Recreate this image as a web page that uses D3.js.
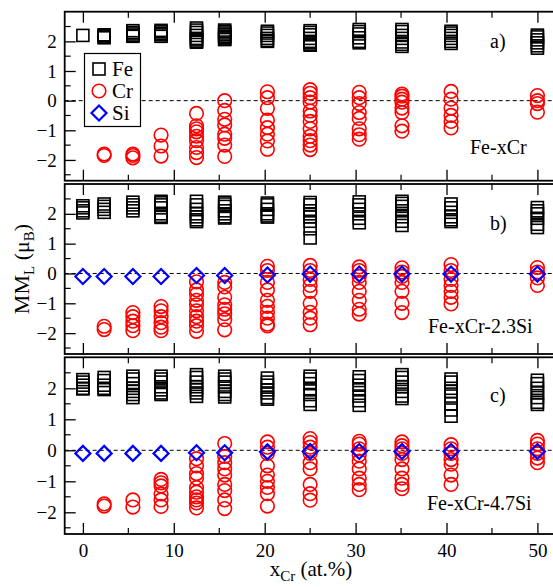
<!DOCTYPE html>
<html>
<head>
<meta charset="utf-8">
<script src="https://cdn.jsdelivr.net/npm/d3@7"></script>
<style>
  body { margin: 0; background: #fff; }
  svg { display: block; }
  svg text { font-family: "Liberation Serif", "DejaVu Serif", serif; }
</style>
</head>
<body>
<svg id="chart" width="553" height="587"></svg>
<script>
// Cr concentrations (at.%) of the simulated cells
const xCr = [0, 2.34, 5.5, 8.6, 12.5, 15.6, 20.3, 25, 30.4, 35.1, 40.5, 50];

// Panel a) Fe-xCr : local magnetic moments per site
const feA = [
    [2.2],
    [2.22, 2.19, 2.15, 2.12],
    [2.36, 2.3, 2.25, 2.2, 2.17],
    [2.37, 2.32, 2.27, 2.22, 2.17],
    [2.45, 2.38, 2.3, 2.2, 2.1, 2.05, 2.0, 1.97],
    [2.38, 2.33, 2.28, 2.22, 2.17, 2.12, 2.08, 2.06],
    [2.34, 2.28, 2.2, 2.1, 2.03, 2.0],
    [2.36, 2.3, 2.22, 2.1, 2.0, 1.95, 1.9, 1.87],
    [2.4, 2.33, 2.25, 2.12, 2.0, 1.95],
    [2.4, 2.33, 2.2, 2.1, 1.98, 1.9, 1.83],
    [2.34, 2.28, 2.2, 2.1, 2.0, 1.93],
    [2.21, 2.15, 2.05, 1.95, 1.85, 1.77]
];
const crA = [
    [],
    [-1.8, -1.85],
    [-1.8, -1.85, -1.93],
    [-1.16, -1.53, -1.87],
    [-0.43, -0.85, -0.95, -1.05, -1.2, -1.35, -1.58, -1.75, -1.92],
    [0.0, -0.33, -0.63, -0.82, -1.13, -1.27, -1.5, -1.88],
    [0.3, 0.1, -0.26, -0.66, -0.91, -1.13, -1.36, -1.64],
    [0.37, 0.25, 0.1, -0.05, -0.35, -0.5, -0.7, -0.95, -1.2, -1.35, -1.5, -1.65],
    [0.28, 0.1, -0.1, -0.4, -0.6, -0.95, -1.15, -1.3],
    [0.22, 0.15, 0.05, -0.05, -0.25, -0.4, -0.85, -1.03],
    [0.31, 0.05, -0.25, -0.5, -0.7, -0.92],
    [0.17, 0.0, -0.1, -0.39]
];
const siA = [];

// Panel b) Fe-xCr-2.3Si
const feB = [
    [2.27, 2.2, 2.1, 2.03],
    [2.33, 2.25, 2.15, 2.05],
    [2.39, 2.3, 2.2, 2.1],
    [2.42, 2.37, 2.3, 2.2, 2.0, 1.92, 1.88],
    [2.42, 2.3, 2.15, 2.0, 1.9, 1.8, 1.74],
    [2.39, 2.33, 2.25, 2.1, 2.0, 1.9, 1.86],
    [2.36, 2.3, 2.15, 2.0, 1.93, 1.89],
    [2.38, 2.3, 2.1, 2.0, 1.9, 1.75, 1.5, 1.19],
    [2.4, 2.3, 2.15, 2.0, 1.85, 1.7],
    [2.42, 2.35, 2.25, 2.1, 1.9, 1.75, 1.61],
    [2.33, 2.2, 2.05, 1.9, 1.8, 1.74],
    [2.21, 2.1, 2.0, 1.85, 1.65, 1.54]
];
const crB = [
    [],
    [-1.77, -1.88],
    [-1.31, -1.45, -1.6, -1.75, -1.92],
    [-1.11, -1.25, -1.45, -1.65, -1.8, -1.92],
    [-0.28, -0.55, -0.7, -0.9, -1.05, -1.25, -1.45, -1.6, -1.75, -1.94],
    [-0.3, -0.45, -0.8, -1.05, -1.2, -1.35, -1.55, -1.89],
    [0.24, 0.1, -0.3, -0.55, -0.9, -1.1, -1.3, -1.5, -1.7, -1.76],
    [0.27, 0.1, -0.2, -0.4, -0.6, -1.0, -1.3, -1.5, -1.72],
    [0.22, 0.1, -0.1, -0.3, -0.6, -0.9, -1.2, -1.36],
    [0.19, 0.05, -0.1, -0.3, -0.6, -1.0, -1.31],
    [0.3, 0.1, -0.2, -0.4, -0.6, -0.8, -1.02],
    [0.2, 0.05, -0.15, -0.4]
];
const siB = [-0.1, -0.1, -0.1, -0.1, -0.07, -0.07, -0.05, -0.02, -0.02, -0.02, -0.02, -0.02];

// Panel c) Fe-xCr-4.7Si
const feC = [
    [2.28, 2.2, 2.1, 2.0, 1.98],
    [2.35, 2.25, 2.1, 2.0, 1.96],
    [2.39, 2.3, 2.15, 2.0, 1.9, 1.8, 1.7],
    [2.39, 2.3, 2.2, 2.05, 1.95, 1.85, 1.8],
    [2.44, 2.35, 2.2, 2.05, 1.95, 1.85, 1.74],
    [2.39, 2.3, 2.2, 2.05, 1.9, 1.8, 1.72],
    [2.33, 2.2, 2.1, 1.95, 1.85, 1.7, 1.65],
    [2.39, 2.3, 2.15, 1.95, 1.8, 1.6, 1.48],
    [2.37, 2.25, 2.1, 1.95, 1.75, 1.6, 1.45],
    [2.44, 2.35, 2.2, 2.05, 1.9, 1.75, 1.67],
    [2.3, 2.2, 2.0, 1.9, 1.75, 1.5, 1.3, 1.1],
    [2.26, 2.15, 2.0, 1.85, 1.7, 1.55, 1.48]
];
const crC = [
    [],
    [-1.73, -1.8],
    [-1.6, -1.83],
    [-0.94, -1.05, -1.15, -1.41, -1.6, -1.81],
    [-0.27, -0.5, -0.75, -0.9, -1.2, -1.35, -1.5, -1.6, -1.7, -1.86],
    [0.22, -0.2, -0.4, -0.6, -0.8, -1.1, -1.3, -1.6, -1.88],
    [0.27, 0.1, -0.1, -0.5, -0.8, -1.0, -1.2, -1.4, -1.8],
    [0.38, 0.25, 0.1, -0.1, -0.4, -0.6, -1.1, -1.4, -1.61],
    [0.29, 0.2, 0.05, -0.15, -0.35, -0.6, -0.9, -1.1, -1.27],
    [0.27, 0.15, 0.05, -0.1, -0.3, -0.6, -0.9, -1.1, -1.24],
    [0.18, 0.05, -0.1, -0.3, -0.45, -0.8, -1.1],
    [0.32, 0.2, 0.05, -0.1, -0.25, -0.4]
];
const siC = [-0.1, -0.1, -0.1, -0.1, -0.08, -0.08, -0.05, -0.04, -0.04, -0.04, -0.04, -0.04];

const yTicks = [-2, -1, 0, 1, 2];
const xTicks = [0, 10, 20, 30, 40, 50];
const legendNames = ["Fe", "Cr", "Si"];

const panels = [
    { fe: feA, cr: crA, si: siA, tag: "a)", name: "Fe-xCr", top: 11.7, bottom: 180.7, tagY: 48, nameX: 470, nameY: 154 },
    { fe: feB, cr: crB, si: siB, tag: "b)", name: "Fe-xCr-2.3Si", top: 184, bottom: 354, tagY: 230, nameX: 428, nameY: 333 },
    { fe: feC, cr: crC, si: siC, tag: "c)", name: "Fe-xCr-4.7Si", top: 357.3, bottom: 534, tagY: 402, nameX: 427, nameY: 510 }
];

const serif = "'Liberation Serif', 'DejaVu Serif', serif";
const svg = d3.select("#chart");
const left = 64.7;
const x = d3.scaleLinear().domain([-2, 52]).range([left, 555.6]);

const SQ = 12;     // square side
const R = 6.8;     // circle radius
const D = 7.5;     // diamond half diagonal

function drawSquares(g, pts) {
    g.selectAll("rect.fe").data(pts).join("rect")
        .attr("class", "fe")
        .attr("x", d => d.x - SQ / 2).attr("y", d => d.y - SQ / 2)
        .attr("width", SQ).attr("height", SQ)
        .attr("fill", "none").attr("stroke", "#000").attr("stroke-width", 1.6);
}

function drawCircles(g, pts) {
    g.selectAll("circle.cr").data(pts).join("circle")
        .attr("class", "cr")
        .attr("cx", d => d.x).attr("cy", d => d.y).attr("r", R)
        .attr("fill", "none").attr("stroke", "#ff0000").attr("stroke-width", 1.6);
}

function drawDiamonds(g, pts) {
    g.selectAll("path.si").data(pts).join("path")
        .attr("class", "si")
        .attr("d", d => `M${d.x},${d.y - D}L${d.x + D},${d.y}L${d.x},${d.y + D}L${d.x - D},${d.y}Z`)
        .attr("fill", "none").attr("stroke", "#0000ff").attr("stroke-width", 2.2);
}

panels.forEach((p, pi) => {
    const y = d3.scaleLinear().domain([-2.7, 3]).range([p.bottom, p.top]);
    const g = svg.append("g");
    const clipId = `clip${pi}`;
    svg.append("clipPath").attr("id", clipId)
        .append("rect").attr("x", left).attr("y", p.top).attr("width", 600).attr("height", p.bottom - p.top);

    // minor ticks
    const yMinor = d3.range(-2.5, 3, 1);
    g.selectAll("line.ymin").data(yMinor).join("line")
        .attr("x1", left).attr("x2", left + 6)
        .attr("y1", d => y(d)).attr("y2", d => y(d))
        .attr("stroke", "#000").attr("stroke-width", 1.2);
    const xMinor = [5, 15, 25, 35, 45];
    g.selectAll("line.xminb").data(xMinor).join("line")
        .attr("x1", d => x(d)).attr("x2", d => x(d))
        .attr("y1", p.bottom).attr("y2", p.bottom - 6)
        .attr("stroke", "#000").attr("stroke-width", 1.2);
    g.selectAll("line.xmint").data(xMinor).join("line")
        .attr("x1", d => x(d)).attr("x2", d => x(d))
        .attr("y1", p.top).attr("y2", p.top + 6)
        .attr("stroke", "#000").attr("stroke-width", 1.2);

    // major ticks, inward
    const yAxis = d3.axisLeft(y).tickValues(yTicks).tickSize(-11).tickPadding(8).tickFormat(d3.format("d"));
    const ya = g.append("g").attr("transform", `translate(${left},0)`).call(yAxis)
        .attr("font-family", serif).attr("font-size", 19);
    ya.select(".domain").remove();
    ya.selectAll("line").attr("stroke", "#000").attr("stroke-width", 1.3);
    ya.selectAll("text").attr("fill", "#000");

    const xAxisB = d3.axisBottom(x).tickValues(xTicks).tickSize(-11).tickPadding(10)
        .tickFormat(pi === 2 ? d3.format("d") : "");
    const xb = g.append("g").attr("transform", `translate(0,${p.bottom})`).call(xAxisB)
        .attr("font-family", serif).attr("font-size", 19);
    xb.select(".domain").remove();
    xb.selectAll("line").attr("stroke", "#000").attr("stroke-width", 1.3);
    xb.selectAll("text").attr("fill", "#000");

    const xAxisT = d3.axisTop(x).tickValues(xTicks).tickSize(-11).tickFormat("");
    const xt = g.append("g").attr("transform", `translate(0,${p.top})`).call(xAxisT);
    xt.select(".domain").remove();
    xt.selectAll("line").attr("stroke", "#000").attr("stroke-width", 1.3);

    // frame
    g.append("rect").attr("x", left).attr("y", p.top)
        .attr("width", 600).attr("height", p.bottom - p.top)
        .attr("fill", "none").attr("stroke", "#000").attr("stroke-width", 1.8);

    // zero line
    g.append("line").attr("x1", left).attr("x2", 553)
        .attr("y1", y(0)).attr("y2", y(0))
        .attr("stroke", "#000").attr("stroke-width", 1).attr("stroke-dasharray", "4,3");

    const marks = g.append("g").attr("clip-path", `url(#${clipId})`);
    const fePts = p.fe.flatMap((vals, i) => vals.map(v => ({ x: x(xCr[i]), y: y(v) })));
    const crPts = p.cr.flatMap((vals, i) => vals.map(v => ({ x: x(xCr[i]), y: y(v) })));
    const siPts = p.si.map((v, i) => ({ x: x(xCr[i]), y: y(v) }));
    drawSquares(marks, fePts);
    drawCircles(marks, crPts);
    drawDiamonds(marks, siPts);

    // labels
    g.append("text").attr("x", 490).attr("y", p.tagY).attr("font-size", 20).text(p.tag);
    g.append("text").attr("x", p.nameX).attr("y", p.nameY).attr("font-size", 20).text(p.name);

    if (pi === 0) {
        const lg = g.append("g");
        lg.append("rect").attr("x", 84.5).attr("y", 53.5).attr("width", 56).attr("height", 73)
            .attr("fill", "#fff").attr("stroke", "#000").attr("stroke-width", 1.2);
        const ly = [69, 91, 113];
        drawSquares(lg, [{ x: 99, y: ly[0] }]);
        drawCircles(lg, [{ x: 99, y: ly[1] }]);
        drawDiamonds(lg, [{ x: 99, y: ly[2] }]);
        lg.selectAll("text.leg").data(legendNames).join("text")
            .attr("class", "leg")
            .attr("x", 112).attr("y", (d, i) => ly[i] + 7)
            .attr("font-size", 21).text(d => d);
    }
});

// axis titles
const yl = svg.append("text")
    .attr("transform", "translate(29,269) rotate(-90)")
    .attr("text-anchor", "middle").attr("font-size", 22);
yl.append("tspan").text("MM");
yl.append("tspan").attr("dy", 5).attr("font-size", 15).text("L");
yl.append("tspan").attr("dy", -5).text(" (μ");
yl.append("tspan").attr("dy", 5).attr("font-size", 15).text("B");
yl.append("tspan").attr("dy", -5).text(")");

const xl = svg.append("text").attr("x", 311).attr("y", 576)
    .attr("text-anchor", "middle").attr("font-size", 21);
xl.append("tspan").text("x");
xl.append("tspan").attr("dy", 5).attr("font-size", 15).text("Cr");
xl.append("tspan").attr("dy", -5).text(" (at.%)");
</script>
</body>
</html>
